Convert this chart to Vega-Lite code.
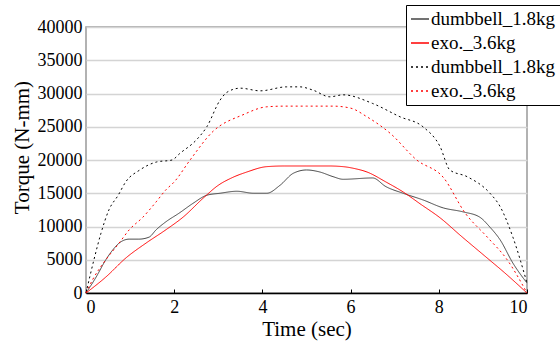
{
  "$schema": "https://vega.github.io/schema/vega-lite/v6.json",
  "width": 441,
  "height": 266,
  "autosize": "none",
  "padding": {"left": 86, "top": 27, "right": 33, "bottom": 57},
  "background": "white",
  "config": {
    "view": {"stroke": "#999999", "strokeWidth": 1.5},
    "axis": {
      "titleFont": "Times New Roman",
      "titleFontSize": 21,
      "titleFontWeight": "normal",
      "titleColor": "black"
    }
  },
  "data": {"values": [
      {"t": 0, "v": 0, "s": "ds"}, {"t": 0.23, "v": 2400, "s": "ds"}, {"t": 0.45, "v": 5000, "s": "ds"}, {"t": 0.61, "v": 6500, "s": "ds"}, {"t": 0.75, "v": 7500, "s": "ds"}, {"t": 0.98, "v": 8100, "s": "ds"}, {"t": 1.2, "v": 8100, "s": "ds"}, {"t": 1.43, "v": 8400, "s": "ds"}, {"t": 1.59, "v": 9500, "s": "ds"}, {"t": 1.81, "v": 10700, "s": "ds"}, {"t": 2.11, "v": 12000, "s": "ds"}, {"t": 2.43, "v": 13500, "s": "ds"}, {"t": 2.74, "v": 14700, "s": "ds"}, {"t": 3.04, "v": 15000, "s": "ds"}, {"t": 3.42, "v": 15300, "s": "ds"}, {"t": 3.8, "v": 15000, "s": "ds"}, {"t": 4.1, "v": 15000, "s": "ds"}, {"t": 4.4, "v": 16200, "s": "ds"}, {"t": 4.7, "v": 18000, "s": "ds"}, {"t": 5.0, "v": 18500, "s": "ds"}, {"t": 5.3, "v": 18200, "s": "ds"}, {"t": 5.6, "v": 17500, "s": "ds"}, {"t": 5.83, "v": 17100, "s": "ds"}, {"t": 6.5, "v": 17300, "s": "ds"}, {"t": 6.8, "v": 16000, "s": "ds"}, {"t": 7.19, "v": 15000, "s": "ds"}, {"t": 7.64, "v": 14000, "s": "ds"}, {"t": 8.1, "v": 12800, "s": "ds"}, {"t": 8.55, "v": 12200, "s": "ds"}, {"t": 8.93, "v": 11400, "s": "ds"}, {"t": 9.16, "v": 9900, "s": "ds"}, {"t": 9.39, "v": 8000, "s": "ds"}, {"t": 9.68, "v": 4500, "s": "ds"}, {"t": 10, "v": 1500, "s": "ds"},

      {"t": 0, "v": 0, "s": "es"}, {"t": 0.45, "v": 2400, "s": "es"}, {"t": 0.91, "v": 5300, "s": "es"}, {"t": 1.36, "v": 7500, "s": "es"}, {"t": 1.81, "v": 9500, "s": "es"}, {"t": 2.2, "v": 11400, "s": "es"}, {"t": 2.68, "v": 14400, "s": "es"}, {"t": 3.0, "v": 16200, "s": "es"}, {"t": 3.3, "v": 17300, "s": "es"}, {"t": 3.65, "v": 18200, "s": "es"}, {"t": 4.1, "v": 19000, "s": "es"}, {"t": 4.5, "v": 19100, "s": "es"}, {"t": 5.0, "v": 19100, "s": "es"}, {"t": 5.5, "v": 19100, "s": "es"}, {"t": 5.83, "v": 19000, "s": "es"}, {"t": 6.1, "v": 18700, "s": "es"}, {"t": 6.37, "v": 18200, "s": "es"}, {"t": 6.8, "v": 16700, "s": "es"}, {"t": 7.19, "v": 15200, "s": "es"}, {"t": 7.6, "v": 13300, "s": "es"}, {"t": 8.03, "v": 11300, "s": "es"}, {"t": 8.5, "v": 8600, "s": "es"}, {"t": 9.09, "v": 5300, "s": "es"}, {"t": 9.5, "v": 3000, "s": "es"}, {"t": 10, "v": 0, "s": "es"},

      {"t": 0, "v": 0, "s": "dd"}, {"t": 0.18, "v": 5000, "s": "dd"}, {"t": 0.34, "v": 9000, "s": "dd"}, {"t": 0.52, "v": 12500, "s": "dd"}, {"t": 0.73, "v": 14700, "s": "dd"}, {"t": 0.9, "v": 16700, "s": "dd"}, {"t": 1.22, "v": 18500, "s": "dd"}, {"t": 1.6, "v": 19700, "s": "dd"}, {"t": 1.95, "v": 20000, "s": "dd"}, {"t": 2.13, "v": 21000, "s": "dd"}, {"t": 2.5, "v": 23000, "s": "dd"}, {"t": 2.74, "v": 25000, "s": "dd"}, {"t": 3.04, "v": 29000, "s": "dd"}, {"t": 3.2, "v": 30200, "s": "dd"}, {"t": 3.5, "v": 30800, "s": "dd"}, {"t": 3.95, "v": 30400, "s": "dd"}, {"t": 4.55, "v": 31000, "s": "dd"}, {"t": 4.85, "v": 31000, "s": "dd"}, {"t": 5.15, "v": 30500, "s": "dd"}, {"t": 5.53, "v": 29500, "s": "dd"}, {"t": 5.83, "v": 29800, "s": "dd"}, {"t": 6.5, "v": 28500, "s": "dd"}, {"t": 7.12, "v": 26500, "s": "dd"}, {"t": 7.64, "v": 25000, "s": "dd"}, {"t": 8.03, "v": 22000, "s": "dd"}, {"t": 8.25, "v": 18500, "s": "dd"}, {"t": 8.64, "v": 17500, "s": "dd"}, {"t": 9.16, "v": 15000, "s": "dd"}, {"t": 9.39, "v": 13000, "s": "dd"}, {"t": 9.68, "v": 8400, "s": "dd"}, {"t": 10, "v": 1500, "s": "dd"},

      {"t": 0, "v": 0, "s": "ed"}, {"t": 0.15, "v": 2000, "s": "ed"}, {"t": 0.45, "v": 5000, "s": "ed"}, {"t": 0.75, "v": 7500, "s": "ed"}, {"t": 0.98, "v": 9500, "s": "ed"}, {"t": 1.29, "v": 11400, "s": "ed"}, {"t": 1.59, "v": 13700, "s": "ed"}, {"t": 1.81, "v": 15500, "s": "ed"}, {"t": 2.0, "v": 16700, "s": "ed"}, {"t": 2.36, "v": 20000, "s": "ed"}, {"t": 2.88, "v": 24300, "s": "ed"}, {"t": 3.56, "v": 26800, "s": "ed"}, {"t": 4.1, "v": 28000, "s": "ed"}, {"t": 4.5, "v": 28100, "s": "ed"}, {"t": 5.0, "v": 28100, "s": "ed"}, {"t": 5.6, "v": 28100, "s": "ed"}, {"t": 6.0, "v": 27800, "s": "ed"}, {"t": 6.37, "v": 26500, "s": "ed"}, {"t": 6.9, "v": 24000, "s": "ed"}, {"t": 7.5, "v": 20000, "s": "ed"}, {"t": 8.1, "v": 17400, "s": "ed"}, {"t": 8.6, "v": 12000, "s": "ed"}, {"t": 9.1, "v": 8400, "s": "ed"}, {"t": 9.55, "v": 5000, "s": "ed"}, {"t": 10, "v": 0, "s": "ed"}
  ]},
  "mark": {"type": "line", "strokeWidth": 1, "clip": false, "interpolate": "monotone"},
  "encoding": {
    "x": {
      "field": "t", "type": "quantitative",
      "scale": {"domain": [0, 10], "nice": false},
      "axis": {
        "title": "Time (sec)",
        "values": [0, 2, 4, 6, 8, 10],
        "grid": false,
        "domainColor": "black",
        "domainWidth": 1.5,
        "tickColor": "black",
        "tickSize": -4,
        "labelPadding": 9,
        "labelFont": "Times New Roman",
        "labelFontSize": 18,
        "titlePadding": 2
      }
    },
    "y": {
      "field": "v", "type": "quantitative",
      "scale": {"domain": [0, 40000], "nice": false},
      "axis": {
        "title": "Torque (N-mm)",
        "values": [0, 5000, 10000, 15000, 20000, 25000, 30000, 35000, 40000],
        "format": "d",
        "grid": true,
        "gridColor": "#d4d4d4",
        "gridWidth": 1.5,
        "domain": false,
        "ticks": false,
        "labelPadding": 4,
        "labelFont": "Times New Roman",
        "labelFontSize": 18,
        "titleAngle": -90,
        "titleX": -58,
        "titleY": 120,
        "titleAlign": "center",
        "titleBaseline": "alphabetic"
      }
    },
    "color": {
      "field": "s", "type": "nominal",
      "scale": {"domain": ["ds", "es", "dd", "ed"], "range": ["#444444", "#ff0000", "#000000", "#ff0000"]},
      "legend": {
        "title": null,
        "orient": "none",
        "legendX": 320,
        "legendY": -22,
        "fillColor": "white",
        "strokeColor": "black",
        "padding": 4,
        "symbolType": "stroke",
        "symbolSize": 324,
        "symbolStrokeWidth": 1.5,
        "labelFont": "Times New Roman",
        "labelFontSize": 19,
        "labelOffset": 1,
        "rowPadding": 4,
        "labelExpr": "datum.label == 'ds' || datum.label == 'dd' ? 'dumbbell_1.8kg' : 'exo._3.6kg'"
      }
    },
    "strokeDash": {
      "field": "s", "type": "nominal",
      "scale": {"domain": ["ds", "es", "dd", "ed"], "range": [[1, 0], [1, 0], [2, 3], [2, 3]]},
      "legend": {
        "title": null,
        "orient": "none",
        "legendX": 320,
        "legendY": -22,
        "fillColor": "white",
        "strokeColor": "black",
        "padding": 4,
        "symbolType": "stroke",
        "symbolSize": 324,
        "symbolStrokeWidth": 1.5,
        "labelFont": "Times New Roman",
        "labelFontSize": 19,
        "labelOffset": 1,
        "rowPadding": 4,
        "labelExpr": "datum.label == 'ds' || datum.label == 'dd' ? 'dumbbell_1.8kg' : 'exo._3.6kg'"
      }
    }
  }
}
